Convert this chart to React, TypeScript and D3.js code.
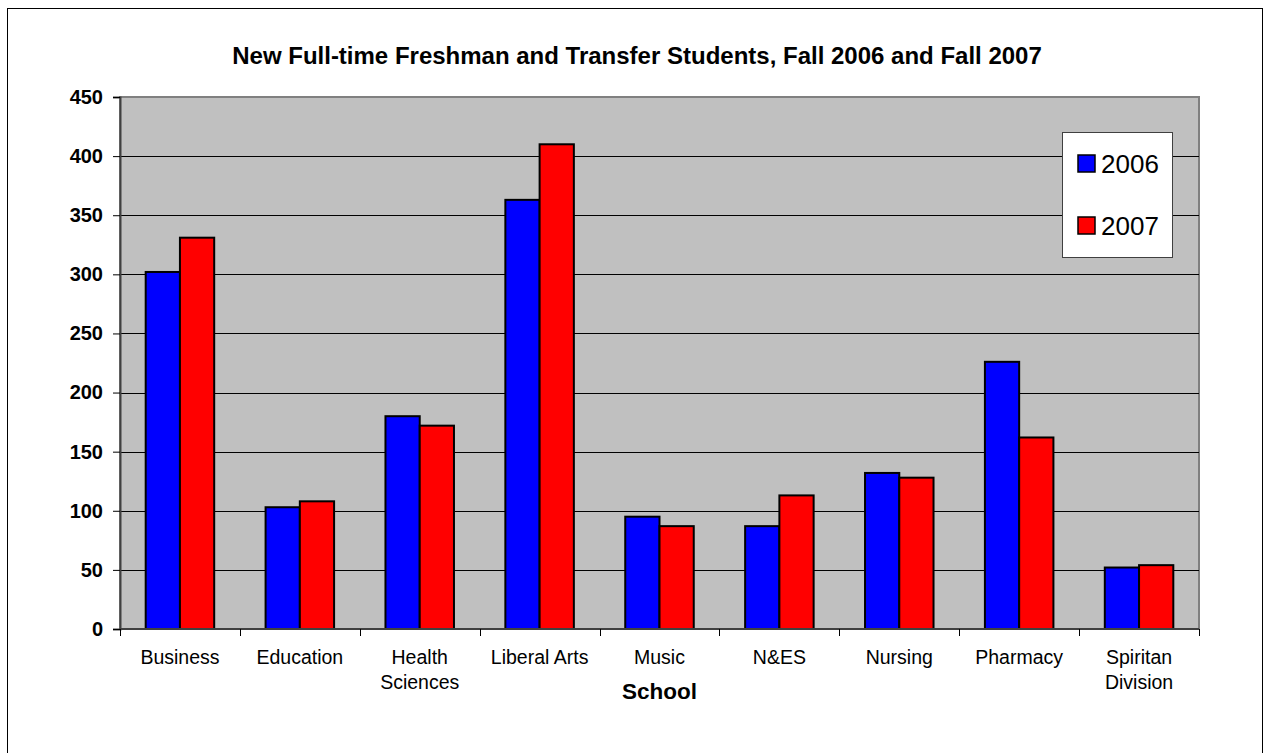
import { useEffect, useRef } from 'react';
import * as d3 from 'd3';

const schools = ['Business', 'Education', 'Health Sciences', 'Liberal Arts', 'Music', 'N&ES', 'Nursing', 'Pharmacy', 'Spiritan Division'];
const schoolLines = [['Business'], ['Education'], ['Health', 'Sciences'], ['Liberal Arts'], ['Music'], ['N&ES'], ['Nursing'], ['Pharmacy'], ['Spiritan', 'Division']];
const fall2006 = [302, 103, 180, 363, 95, 87, 132, 226, 52];
const fall2007 = [331, 108, 172, 410, 87, 113, 128, 162, 54];
const series = ['2006', '2007'];
const colors = ['#0000ff', '#ff0000'];
const yTicks = [0, 50, 100, 150, 200, 250, 300, 350, 400, 450];

const W = 1267;
const H = 753;
const font = 'Arial, "Liberation Sans", sans-serif';

const App = () => {
  const svgRef = useRef<SVGSVGElement>(null);

  useEffect(() => {
    if (!svgRef.current) return;
    const svg = d3.select(svgRef.current);
    svg.selectAll('*').remove();

    const left = 120, right = 1199, top = 97, bottom = 629;

    const x = d3.scaleBand().domain(schools).range([left, right]).paddingInner(0).paddingOuter(0);
    const y = d3.scaleLinear().domain([0, 450]).range([bottom, top]);
    const bw = x.bandwidth() / 3.5;

    // outer frame
    svg.append('rect')
      .attr('x', 7.5).attr('y', 8.5).attr('width', 1255).attr('height', 760)
      .attr('fill', '#fff').attr('stroke', '#000').attr('stroke-width', 1);

    svg.append('text')
      .attr('x', 637).attr('y', 64)
      .attr('text-anchor', 'middle')
      .attr('font-family', font).attr('font-weight', 'bold').attr('font-size', 24)
      .text('New Full-time Freshman and Transfer Students, Fall 2006 and Fall 2007');

    // plot area
    svg.append('rect')
      .attr('x', left).attr('y', top).attr('width', right - left).attr('height', bottom - top)
      .attr('fill', '#c0c0c0').attr('stroke', '#808080').attr('stroke-width', 2);

    svg.append('g').selectAll('line')
      .data(yTicks.filter(t => t > 0 && t < 450))
      .enter().append('line')
      .attr('x1', left).attr('x2', right)
      .attr('y1', d => Math.round(y(d)) + 0.5).attr('y2', d => Math.round(y(d)) + 0.5)
      .attr('stroke', '#000').attr('stroke-width', 1);

    // bars
    const data = schools.map((s, i) => ({ s, vals: [fall2006[i], fall2007[i]] }));
    const groups = svg.append('g').selectAll('g')
      .data(data).enter().append('g')
      .attr('transform', d => `translate(${(x(d.s) || 0) + bw * 0.75},0)`);
    groups.selectAll('rect')
      .data(d => d.vals)
      .enter().append('rect')
      .attr('x', (_, j) => j * bw)
      .attr('y', d => y(d))
      .attr('width', bw)
      .attr('height', d => bottom - y(d))
      .attr('fill', (_, j) => colors[j])
      .attr('stroke', '#000').attr('stroke-width', 2);

    // y axis
    const yAxis = svg.append('g')
      .attr('transform', `translate(${left},0)`)
      .call(d3.axisLeft(y).tickValues(yTicks).tickSize(7).tickPadding(10));
    yAxis.select('.domain').attr('stroke', '#404040').attr('stroke-width', 2);
    yAxis.selectAll('.tick line').attr('stroke', '#000');
    yAxis.selectAll('.tick text')
      .attr('font-family', font).attr('font-weight', 'bold').attr('font-size', 20).attr('fill', '#000');

    // x axis
    const xAxis = svg.append('g')
      .attr('transform', `translate(0,${bottom})`);
    xAxis.append('line')
      .attr('x1', left).attr('x2', right).attr('y1', 0).attr('y2', 0)
      .attr('stroke', '#404040').attr('stroke-width', 2);
    xAxis.selectAll('.xt')
      .data(d3.range(schools.length + 1))
      .enter().append('line')
      .attr('x1', i => Math.round(left + i * x.step()) + 0.5)
      .attr('x2', i => Math.round(left + i * x.step()) + 0.5)
      .attr('y1', 0).attr('y2', 7)
      .attr('stroke', '#000');
    const labels = xAxis.selectAll('.xl')
      .data(schools).enter().append('text')
      .attr('text-anchor', 'middle')
      .attr('font-family', font).attr('font-size', 19.5);
    labels.selectAll('tspan')
      .data((_, i) => schoolLines[i].map(t => ({ t, i })))
      .enter().append('tspan')
      .attr('x', d => (x(schools[d.i]) || 0) + x.bandwidth() / 2)
      .attr('y', (_, k) => 35 + k * 25)
      .text(d => d.t);

    svg.append('text')
      .attr('x', (left + right) / 2).attr('y', 699)
      .attr('text-anchor', 'middle')
      .attr('font-family', font).attr('font-weight', 'bold').attr('font-size', 22.5)
      .text('School');

    // legend
    const lg = svg.append('g');
    lg.append('rect')
      .attr('x', 1062.5).attr('y', 132.5).attr('width', 110).attr('height', 125)
      .attr('fill', '#fff').attr('stroke', '#404040').attr('stroke-width', 1);
    series.forEach((s, i) => {
      const yy = 155 + i * 62;
      lg.append('rect')
        .attr('x', 1078).attr('y', yy).attr('width', 17).attr('height', 17)
        .attr('fill', colors[i]).attr('stroke', '#000').attr('stroke-width', 1.5);
      lg.append('text')
        .attr('x', 1101).attr('y', yy + 18)
        .attr('font-family', font).attr('font-size', 26)
        .text(s);
    });
  }, []);

  return (
    <svg ref={svgRef} width={W} height={H}
      style={{ position: 'absolute', left: 0, top: 0, background: '#fff' }} />
  );
};

export default App;
